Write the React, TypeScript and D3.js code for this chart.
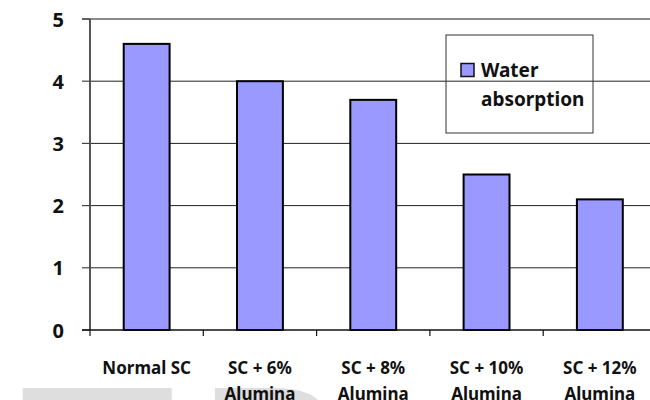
import React from "react";
import * as d3 from "d3";

const categories = ["Normal SC", "SC + 6%|Alumina", "SC + 8%|Alumina", "SC + 10%|Alumina", "SC + 12%|Alumina"];
const waterAbsorption = [4.6, 4.0, 3.7, 2.5, 2.1];
const yTicks = [0, 1, 2, 3, 4, 5];
const legendLines = ["Water", "absorption"];

const W = 650;
const H = 400;
const FONT = "'Noto Sans', sans-serif";

export default function App() {
  const x = d3.scaleBand<string>().domain(categories).range([90, 656.5]).padding(0);
  const y = d3.scaleLinear().domain([0, 5]).range([330, 19]);
  const bw = x.bandwidth();
  const barW = bw * 0.405;

  return (
    <svg width={W} height={H} style={{ position: "absolute", left: 0, top: 0, background: "#fff" }}>
      {/* faint background shapes at bottom */}
      <rect x={22.7} y={388} width={149} height={12} fill="#dedede" />
      <path d="M215,388 L272,388 C295,388 310,392 318,400 L215,400 Z" fill="#dedede" />

      {/* gridlines */}
      {yTicks.filter((t) => t > 0 && t < 5).map((t) => (
        <line key={t} x1={90} x2={W} y1={y(t)} y2={y(t)} stroke="#222" strokeWidth={1} />
      ))}
      {/* top border */}
      <line x1={82} x2={W} y1={y(5)} y2={y(5)} stroke="#8a8a8a" strokeWidth={2} />

      {/* bars */}
      {categories.map((c, i) => (
        <rect
          key={c}
          x={(x(c) as number) + (bw - barW) / 2}
          y={y(waterAbsorption[i])}
          width={barW}
          height={y(0) - y(waterAbsorption[i])}
          fill="#9999FF"
          stroke="#000"
          strokeWidth={2}
        />
      ))}

      {/* y axis */}
      <line x1={90} x2={90} y1={y(5)} y2={y(0)} stroke="#555" strokeWidth={2} />
      {yTicks.map((t) => (
        <g key={t}>
          <line x1={82} x2={90} y1={y(t)} y2={y(t)} stroke="#444" strokeWidth={1.2} />
          <text
            x={64}
            y={y(t)}
            textAnchor="end"
            dominantBaseline="central"
            fontFamily={FONT}
            fontWeight="bold"
            fontSize={20}
            fill="#111"
          >
            {t}
          </text>
        </g>
      ))}

      {/* x axis */}
      <line x1={82} x2={W} y1={y(0)} y2={y(0)} stroke="#111" strokeWidth={1.5} />
      {categories.map((c) => (
        <line key={c} x1={x(c) as number} x2={x(c) as number} y1={y(0)} y2={y(0) + 6} stroke="#111" strokeWidth={1.2} />
      ))}
      {categories.map((c) => {
        const cx = (x(c) as number) + bw / 2;
        const lines = c.split("|");
        return (
          <text key={c} textAnchor="middle" fontFamily={FONT} fontWeight="bold" fontSize={17} fill="#111">
            {lines.map((l, j) => (
              <tspan key={j} x={cx} y={374 + j * 25.5}>
                {l}
              </tspan>
            ))}
          </text>
        );
      })}

      {/* legend */}
      <rect x={446} y={35} width={147} height={98} fill="none" stroke="#333" strokeWidth={1} />
      <rect x={461} y={63.5} width={13} height={13} fill="#9999FF" stroke="#111" strokeWidth={1.5} />
      {legendLines.map((l, j) => (
        <text key={l} x={481} y={77 + j * 29} fontFamily={FONT} fontWeight="bold" fontSize={19} fill="#111">
          {l}
        </text>
      ))}
    </svg>
  );
}
